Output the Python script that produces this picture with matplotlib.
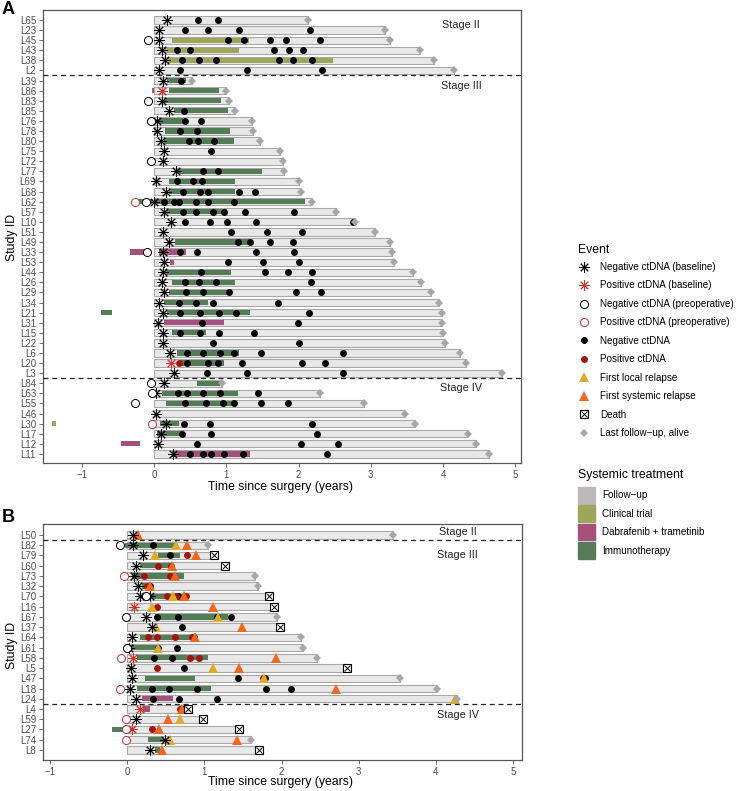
import numpy as np
import matplotlib
matplotlib.use("Agg")
import matplotlib.pyplot as plt
from matplotlib.lines import Line2D
from matplotlib.patches import Patch

plt.rcParams['font.family'] = ['Liberation Sans', 'DejaVu Sans']

# ---------------- Panel A data ----------------
A_ids = ["L65", "L23", "L45", "L43", "L38", "L2",
         "L39", "L86", "L83", "L85", "L76", "L78", "L80", "L75", "L72", "L77",
         "L69", "L68", "L62", "L57", "L10", "L51", "L49", "L33", "L53", "L44",
         "L26", "L29", "L34", "L21", "L31", "L15", "L22", "L6", "L20", "L3",
         "L84", "L63", "L55", "L46", "L30", "L17", "L12", "L11"]
A_end = [2.13, 3.20, 3.27, 3.68, 3.88, 4.15,
         0.53, 1.00, 1.03, 1.12, 1.35, 1.37, 1.46, 1.74, 1.78, 1.80,
         2.01, 2.04, 2.18, 2.52, 2.78, 3.06, 3.26, 3.29, 3.32, 3.59,
         3.69, 3.84, 3.94, 3.98, 3.98, 4.00, 4.03, 4.24, 4.32, 4.82,
         0.94, 2.29, 2.90, 3.47, 3.61, 4.34, 4.46, 4.63]
A_dead = []
A_treatment = [
    ("L45", 0.24, 1.31, "trial"), ("L43", 0.15, 1.18, "trial"), ("L38", 0.19, 2.47, "trial"),
    ("L39", 0.18, 0.44, "immuno"), ("L86", -0.03, 0.00, "dabtram"), ("L86", 0.21, 0.90, "immuno"),
    ("L83", 0.13, 0.92, "immuno"), ("L85", 0.27, 1.02, "immuno"), ("L76", 0.06, 0.40, "immuno"),
    ("L78", 0.15, 1.05, "immuno"), ("L80", 0.13, 1.10, "immuno"), ("L77", 0.31, 1.49, "immuno"),
    ("L69", 0.20, 1.12, "immuno"), ("L68", 0.20, 1.12, "immuno"), ("L62", -0.22, -0.01, "immuno"),
    ("L62", 0.00, 2.09, "immuno"), ("L57", 0.18, 1.01, "immuno"), ("L49", 0.29, 1.33, "immuno"),
    ("L33", -0.33, -0.05, "dabtram"), ("L33", 0.06, 0.44, "dabtram"), ("L53", 0.22, 0.28, "dabtram"),
    ("L44", 0.15, 1.06, "immuno"), ("L26", 0.24, 1.12, "immuno"), ("L29", 0.21, 1.05, "immuno"),
    ("L34", 0.13, 0.74, "immuno"), ("L21", -0.74, -0.59, "immuno"), ("L21", 0.18, 1.33, "immuno"),
    ("L31", 0.13, 0.97, "dabtram"), ("L15", 0.25, 0.72, "immuno"), ("L6", 0.31, 1.18, "immuno"),
    ("L20", 0.34, 0.96, "immuno"), ("L84", 0.59, 0.91, "immuno"), ("L63", 0.11, 1.16, "immuno"),
    ("L55", 0.17, 1.14, "immuno"), ("L30", -1.42, -1.36, "trial"), ("L30", 0.08, 0.34, "immuno"),
    ("L17", 0.04, 0.38, "immuno"), ("L12", -0.46, -0.20, "dabtram"), ("L11", 0.24, 1.33, "dabtram"),
]
A_base_neg = {"L65": 0.18, "L23": 0.06, "L45": 0.07, "L43": 0.11, "L38": 0.15, "L2": 0.07,
              "L39": 0.12, "L83": 0.11, "L85": 0.20, "L76": 0.04, "L78": 0.04, "L80": 0.10,
              "L75": 0.13, "L72": 0.12, "L77": 0.30, "L69": 0.02, "L68": 0.16, "L62": 0.00,
              "L57": 0.13, "L10": 0.23, "L51": 0.12, "L49": 0.21, "L33": 0.12, "L53": 0.14,
              "L44": 0.12, "L26": 0.11, "L29": 0.13, "L34": 0.07, "L21": 0.12, "L31": 0.05,
              "L15": 0.12, "L22": 0.12, "L6": 0.22, "L3": 0.27, "L84": 0.14, "L63": 0.03,
              "L46": 0.03, "L30": 0.16, "L17": 0.09, "L12": 0.05, "L11": 0.26}
A_base_pos = {"L86": 0.11, "L20": 0.23}
A_pre_neg = {"L45": -0.09, "L83": -0.08, "L76": -0.05, "L72": -0.05, "L62": -0.11,
             "L33": -0.10, "L84": -0.04, "L63": -0.03, "L55": -0.26}
A_pre_pos = {"L62": -0.26, "L30": -0.03}
A_ct_neg = {
    "L65": [0.60, 0.88], "L23": [0.43, 0.75, 1.17, 2.16], "L45": [1.02, 1.25, 1.60, 1.82, 2.29],
    "L43": [0.32, 0.49, 1.66, 1.87, 2.06], "L38": [0.38, 0.62, 0.85, 1.73, 1.92, 2.19],
    "L2": [0.36, 1.28, 2.33], "L39": [0.37], "L85": [0.41], "L76": [0.42, 0.65],
    "L78": [0.36, 0.59], "L80": [0.48, 0.60, 0.83], "L75": [0.78], "L77": [0.68, 0.89],
    "L69": [0.31, 0.54, 0.66], "L68": [0.40, 0.63, 0.75, 1.17, 1.40],
    "L62": [0.13, 0.27, 0.35, 0.58, 0.75, 1.10], "L57": [0.40, 0.58, 0.81, 0.97, 1.26, 1.94],
    "L10": [0.42, 0.77, 1.01, 1.41, 2.75], "L51": [1.06, 1.56, 2.05], "L49": [1.16, 1.33, 1.61, 1.92],
    "L33": [0.36, 0.59, 1.41, 1.94], "L53": [1.02, 1.50, 2.00], "L44": [0.65, 1.54, 1.86, 2.18],
    "L26": [0.43, 0.62, 0.86, 2.17], "L29": [0.44, 0.67, 1.04, 1.96, 2.31],
    "L34": [0.35, 0.58, 0.81, 1.71], "L21": [0.36, 0.63, 0.90, 1.13, 2.14], "L31": [0.66, 1.99],
    "L15": [0.36, 0.64, 0.90, 1.38], "L22": [0.81, 2.01], "L6": [0.45, 0.68, 0.91, 1.11, 1.48, 2.62],
    "L20": [0.45, 0.74, 0.88, 1.22, 2.05, 2.37], "L3": [0.73, 1.29, 2.61],
    "L63": [0.33, 0.45, 0.67, 0.91, 1.44], "L55": [0.43, 0.72, 0.95, 1.10, 1.48, 1.85],
    "L30": [0.41, 0.77, 2.18], "L17": [0.38, 0.78, 2.25], "L12": [0.59, 2.04, 2.54],
    "L11": [0.50, 0.68, 0.78, 0.96, 1.23, 2.39],
}
A_ct_pos = {"L20": [0.35]}

# ---------------- Panel B data ----------------
B_ids = ["L50", "L82", "L79", "L60", "L73", "L32", "L70", "L16", "L67", "L37", "L64",
         "L61", "L58", "L5", "L47", "L18", "L24", "L4", "L59", "L27", "L74", "L8"]
B_end = [3.44, 1.05, 1.13, 1.27, 1.65, 1.69, 1.84, 1.90, 1.94, 1.98, 2.25,
         2.28, 2.46, 2.85, 3.54, 4.01, 4.27, 0.79, 0.98, 1.45, 1.61, 1.71]
B_dead = ["L79", "L60", "L70", "L16", "L37", "L5", "L4", "L59", "L27", "L8"]
B_treatment = [
    ("L82", -0.03, 0.62, "immuno"), ("L79", 0.40, 0.68, "immuno"), ("L60", 0.16, 0.57, "immuno"),
    ("L73", 0.06, 0.74, "immuno"), ("L32", 0.19, 0.25, "immuno"), ("L70", 0.27, 0.77, "immuno"),
    ("L67", 0.36, 1.31, "immuno"), ("L64", 0.16, 0.81, "immuno"), ("L61", 0.00, 0.40, "immuno"),
    ("L58", 0.13, 1.05, "immuno"), ("L47", 0.23, 0.88, "immuno"), ("L18", 0.13, 1.09, "immuno"),
    ("L24", 0.19, 0.60, "dabtram"), ("L4", 0.21, 0.29, "dabtram"), ("L27", -0.19, -0.06, "immuno"),
    ("L74", 0.27, 0.48, "immuno"), ("L8", 0.36, 0.42, "immuno"),
]
B_base_neg = {"L50": 0.07, "L82": 0.07, "L79": 0.21, "L60": 0.12, "L73": 0.09, "L32": 0.14,
              "L70": [0.17, 0.30], "L67": 0.25, "L37": 0.32, "L64": 0.06, "L61": 0.03,
              "L5": 0.05, "L47": 0.06, "L18": 0.04, "L24": 0.12, "L59": 0.12, "L74": 0.49,
              "L8": 0.29}
B_base_pos = {"L16": 0.09, "L58": 0.08, "L4": 0.16, "L27": 0.06}
B_pre_neg = {"L82": -0.09, "L70": 0.24, "L67": -0.02, "L61": 0.00}
B_pre_pos = {"L73": -0.04, "L58": -0.08, "L18": -0.09, "L59": -0.02, "L27": -0.02, "L74": -0.02}
B_ct_neg = {"L82": [0.33], "L79": [0.55], "L32": [0.29], "L70": [0.66], "L67": [0.39, 0.66, 1.16, 1.35],
            "L37": [0.71], "L64": [0.87], "L61": [0.40, 0.65], "L58": [0.35, 0.58], "L5": [0.73],
            "L47": [1.43, 1.78], "L18": [0.32, 0.54, 0.90, 1.80, 2.12], "L24": [0.34, 0.67, 1.16],
            "L4": [0.72], "L27": [-0.01]}
B_ct_pos = {"L79": [0.78], "L60": [0.40, 0.57], "L73": [0.22, 0.56], "L32": [0.26],
            "L70": [0.52, 0.63, 0.76], "L16": [0.39], "L64": [0.27, 0.39, 0.62, 0.84],
            "L58": [0.81, 0.93], "L5": [0.39], "L47": [1.76], "L4": [0.69], "L27": [0.32]}
B_local = {"L82": 0.63, "L79": 0.36, "L70": 0.60, "L16": 0.32, "L67": 1.18, "L37": 0.38,
           "L61": 0.40, "L5": 1.11, "L47": 1.77, "L24": 4.24, "L59": 0.68, "L74": 0.56}
B_systemic = {"L50": 0.14, "L82": 0.77, "L79": 0.89, "L60": 0.58, "L73": 0.62, "L32": 0.30,
              "L70": 0.73, "L16": 1.11, "L37": 1.49, "L64": 0.88, "L58": 1.93, "L5": 1.45,
              "L18": 2.70, "L4": 0.71, "L59": 0.53, "L27": 0.41, "L74": 1.42, "L8": 0.45}

# ---------------- colours ----------------
FOLLOW_FILL = "#e8e8e8"
FOLLOW_EDGE = "#a8a8a8"
FOLLOW_KEY = "#bdb9b9"
TREAT_COLORS = {"trial": "#9ea55c", "dabtram": "#a4517d", "immuno": "#547c57"}
RED_MARK = "#c8332b"
RED_DOT = "#a3140f"
GOLD = "#deab2c"
ORANGE = "#f2661f"
DIAMOND = "#a6a6a6"
SPINE = "#555555"


def points(ids, events):
    row = {sid: i for i, sid in enumerate(ids)}
    xs, ys = [], []
    for sid, vals in events.items():
        for v in np.atleast_1d(vals):
            xs.append(v)
            ys.append(row[sid])
    return xs, ys


def draw_panel(ax, ids, end, dead, treat, base_neg, base_pos, pre_neg, pre_pos,
               ct_neg, ct_pos, local=None, systemic=None):
    row = {sid: i for i, sid in enumerate(ids)}
    ax.barh(range(len(ids)), end, left=0, height=0.72, color=FOLLOW_FILL,
            edgecolor=FOLLOW_EDGE, linewidth=0.8, zorder=1)
    for sid, start, stop, kind in treat:
        ax.barh(row[sid], stop - start, left=start, height=0.52,
                color=TREAT_COLORS[kind], linewidth=0, zorder=2)

    x, y = points(ids, ct_neg)
    ax.plot(x, y, 'o', ms=5.0, color='black', mew=0, zorder=3)
    x, y = points(ids, ct_pos)
    ax.plot(x, y, 'o', ms=5.0, color=RED_DOT, mew=0, zorder=3.1)

    if local:
        x, y = points(ids, local)
        ax.plot(x, y, '^', ms=6.5, color=GOLD, mew=0, zorder=4)
    if systemic:
        x, y = points(ids, systemic)
        ax.plot(x, y, '^', ms=6.5, color=ORANGE, mew=0, zorder=4)

    # end of follow-up
    alive_x = [e for sid, e in zip(ids, end) if sid not in dead]
    alive_y = [row[sid] for sid in ids if sid not in dead]
    ax.plot(alive_x, alive_y, 'D', ms=3.8, color=DIAMOND, mew=0, zorder=4)
    dead_x = [e for sid, e in zip(ids, end) if sid in dead]
    dead_y = [row[sid] for sid in ids if sid in dead]
    ax.plot(dead_x, dead_y, 's', ms=6, mfc='white', mec='black', mew=0.8, zorder=4)
    ax.plot(dead_x, dead_y, 'x', ms=4.5, color='black', mew=0.7, zorder=4.1)

    x, y = points(ids, base_neg)
    ax.plot(x, y, marker=(8, 2, 0), ls='none', ms=7.5, color='black', mew=0.7, zorder=5)
    x, y = points(ids, base_pos)
    ax.plot(x, y, marker=(8, 2, 0), ls='none', ms=7.5, color=RED_MARK, mew=0.7, zorder=5)
    x, y = points(ids, pre_neg)
    ax.plot(x, y, 'o', ms=5.8, mfc='white', mec='black', mew=0.7, zorder=5)
    x, y = points(ids, pre_pos)
    ax.plot(x, y, 'o', ms=5.8, mfc='white', mec=RED_MARK, mew=0.7, zorder=5)

    ax.set_yticks(range(len(ids)))
    ax.set_yticklabels(ids)
    ax.set_xticks([-1, 0, 1, 2, 3, 4, 5])
    ax.set_xticklabels(["\u22121", "0", "1", "2", "3", "4", "5"])
    ax.tick_params(axis='both', length=3, width=0.6, color=SPINE, labelsize=7,
                   labelcolor='#4d4d4d', pad=2)
    for sp in ax.spines.values():
        sp.set_color(SPINE)
        sp.set_linewidth(0.9)


fig = plt.figure(figsize=(7.37, 7.91), dpi=100)
W, H = 737, 791

axA = fig.add_axes([43 / W, 1 - 463 / H, (521 - 43) / W, (463 - 10) / H])
draw_panel(axA, A_ids, A_end, A_dead, A_treatment, A_base_neg, A_base_pos,
           A_pre_neg, A_pre_pos, A_ct_neg, A_ct_pos)
axA.set_xlim(-1.54, 5.08)
axA.set_ylim(43.9, -0.99)
for yl in [5.5, 35.5]:
    axA.axhline(yl, color='#222222', lw=0.9, ls=(0, (4, 3)), zorder=6)
axA.text(4.25, 0.5, "Stage II", ha='center', va='center', fontsize=7.8, color='#222222')
axA.text(4.25, 6.55, "Stage III", ha='center', va='center', fontsize=7.8, color='#222222')
axA.text(4.25, 36.5, "Stage IV", ha='center', va='center', fontsize=7.8, color='#222222')

axB = fig.add_axes([43 / W, 1 - 760 / H, (521.7 - 43) / W, (760 - 524) / H])
draw_panel(axB, B_ids, B_end, B_dead, B_treatment, B_base_neg, B_base_pos,
           B_pre_neg, B_pre_pos, B_ct_neg, B_ct_pos, B_local, B_systemic)
axB.set_xlim(-1.09, 5.11)
axB.set_ylim(21.98, -1.07)
for yl in [0.5, 16.5]:
    axB.axhline(yl, color='#222222', lw=0.9, ls=(0, (4, 3)), zorder=6)
axB.text(4.28, -0.26, "Stage II", ha='center', va='center', fontsize=7.8, color='#222222')
axB.text(4.28, 2.0, "Stage III", ha='center', va='center', fontsize=7.8, color='#222222')
axB.text(4.28, 17.6, "Stage IV", ha='center', va='center', fontsize=7.8, color='#222222')

# axis labels and panel letters
fig.text(280 / W, 1 - 487 / H, "Time since surgery (years)", ha='center', va='center', fontsize=8.8)
fig.text(281 / W, 1 - 782 / H, "Time since surgery (years)", ha='center', va='center', fontsize=8.8)
fig.text(12 / W, 1 - 237 / H, "Study ID", rotation=90, ha='center', va='center', fontsize=8.8)
fig.text(12 / W, 1 - 645 / H, "Study ID", rotation=90, ha='center', va='center', fontsize=8.8)
fig.text(2 / W, 1 - 10 / H, "A", fontsize=13, fontweight='bold', va='center', ha='left')
fig.text(2 / W, 1 - 517 / H, "B", fontsize=13, fontweight='bold', va='center', ha='left')

# legends
event_handles = [
    Line2D([], [], marker=(8, 2, 0), ls='none', ms=7.5, color='black', mew=0.7),
    Line2D([], [], marker=(8, 2, 0), ls='none', ms=7.5, color=RED_MARK, mew=0.7),
    Line2D([], [], marker='o', ls='none', ms=5.8, mfc='white', mec='black', mew=0.7),
    Line2D([], [], marker='o', ls='none', ms=5.8, mfc='white', mec=RED_MARK, mew=0.7),
    Line2D([], [], marker='o', ls='none', ms=5.0, color='black', mew=0),
    Line2D([], [], marker='o', ls='none', ms=5.0, color=RED_DOT, mew=0),
    Line2D([], [], marker='^', ls='none', ms=6.5, color=GOLD, mew=0),
    Line2D([], [], marker='^', ls='none', ms=6.5, color=ORANGE, mew=0),
    (Line2D([], [], marker='s', ls='none', ms=6, mfc='white', mec='black', mew=0.8),
     Line2D([], [], marker='x', ls='none', ms=4.5, color='black', mew=0.7)),
    Line2D([], [], marker='D', ls='none', ms=3.8, color=DIAMOND, mew=0),
]
event_labels = ["Negative ctDNA (baseline)", "Positive ctDNA (baseline)",
                "Negative ctDNA (preoperative)", "Positive ctDNA (preoperative)",
                "Negative ctDNA", "Positive ctDNA", "First local relapse",
                "First systemic relapse", "Death", "Last follow\u2212up, alive"]
fig.text(578 / W, 1 - 250 / H, "Event", fontsize=8.8, va='center', ha='left')
fig.legend(event_handles, event_labels, loc='upper left',
           bbox_to_anchor=(575 / W, 1 - 262 / H), frameon=False, fontsize=7.1,
           handlelength=1.8, handletextpad=0.75, labelspacing=0.86, borderpad=0,
           borderaxespad=0)

treat_handles = [Patch(color=FOLLOW_KEY), Patch(color=TREAT_COLORS["trial"]),
                 Patch(color=TREAT_COLORS["dabtram"]), Patch(color=TREAT_COLORS["immuno"])]
treat_labels = ["Follow\u2212up", "Clinical trial", "Dabrafenib + trametinib", "Immunotherapy"]
fig.text(578 / W, 1 - 475 / H, "Systemic treatment", fontsize=8.8, va='center', ha='left')
fig.legend(treat_handles, treat_labels, loc='upper left',
           bbox_to_anchor=(578 / W, 1 - 487 / H), frameon=False, fontsize=7.1,
           handlelength=1.75, handleheight=2.2, handletextpad=0.7, labelspacing=0.2,
           borderpad=0, borderaxespad=0)

fig.savefig("out.png", dpi=100)
